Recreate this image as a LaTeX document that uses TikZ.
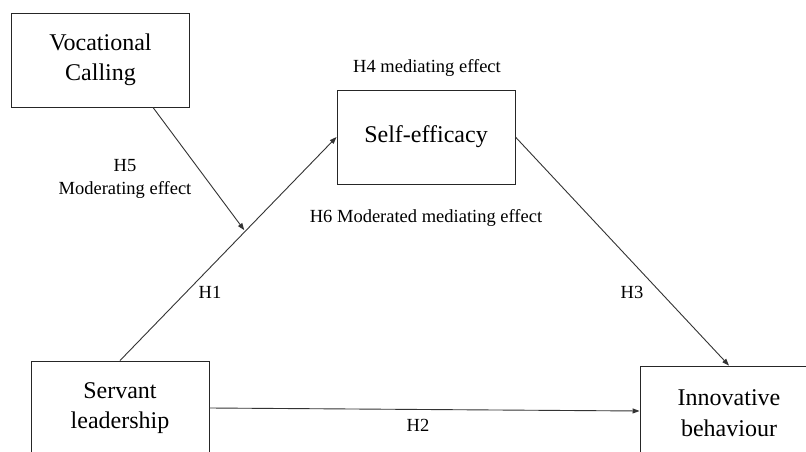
\documentclass[tikz,border=0pt]{standalone}
\usepackage{fontspec}
\setmainfont{Liberation Serif}
\usetikzlibrary{arrows.meta,calc}
\tikzset{
  box/.style={draw=black!85, line width=0.9pt, minimum width=178pt, minimum height=94pt,
    inner sep=0pt, align=center, font=\fontsize{24}{30.5}\selectfont},
  lbl/.style={inner sep=0pt, font=\fontsize{18.5}{23}\selectfont, align=center},
  conn/.style={draw=black!80, line width=0.9pt, -{Triangle[length=7pt,width=5pt]}}
}
\begin{document}
\begin{tikzpicture}[x=1pt,y=-1pt]
\useasboundingbox (0,0) rectangle (806,452);
\clip (0,0) rectangle (806,452);
\fill[white] (0,0) rectangle (806,452);
% boxes
\node[box] (vc) at (100.5,60) {Vocational\\Calling};
\node[box] (se) at (426,137) {Self-efficacy};
\node[box] (sl) at (120,408) {Servant\\leadership};
\node[box] (ib) at (729,413) {Innovative\\behaviour};
% moderation point on H1
\coordinate (mod) at ($(sl.north)!0.578!(se.west)$);
\coordinate (vcs) at ($(vc.south)+(52.5,0)$);
% connectors
\draw[conn] (sl.north) -- (se.west);
\draw[conn, shorten >=1.5pt] (vcs) -- (mod);
\draw[conn] (se.east) -- (ib.north);
\draw[conn] (sl.east) -- ($(ib.west)+(0,-2)$);
% labels
\node[lbl, anchor=base] (h4) at (427,73) {H4 mediating effect};
\node[lbl, anchor=base] (h6) at (426,222) {H6 Moderated mediating effect};
\node[lbl] (h5) at (125,179) {H5\\Moderating effect};
\node[lbl, anchor=base] (h1) at (210,298) {H1};
\node[lbl, anchor=base] (h3) at (632,298) {H3};
\node[lbl, anchor=base] (h2) at (418,431) {H2};
\end{tikzpicture}
\end{document}
